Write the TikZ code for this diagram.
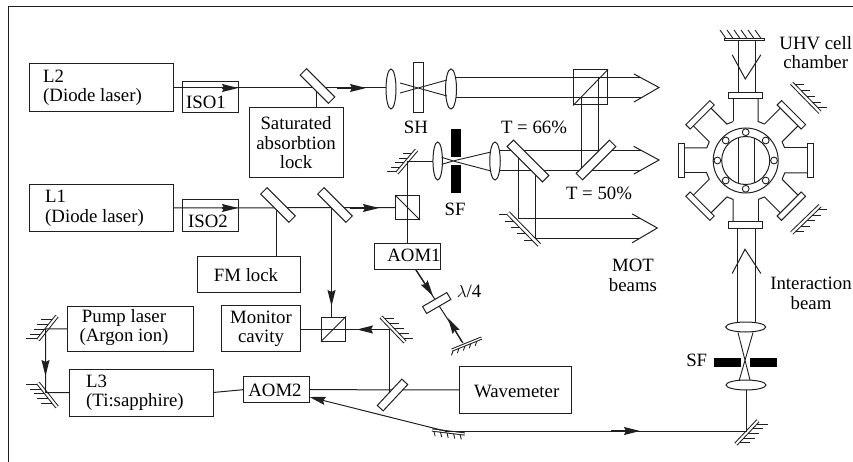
\documentclass[tikz,border=0pt]{standalone}
\usepackage{fontspec}
\setmainfont{Liberation Serif}
\usetikzlibrary{calc,arrows.meta,shapes.geometric}
\definecolor{ln}{gray}{0.12}
\newcommand{\hmirror}[8]{% name x1 y1 x2 y2 dx dy widthpt
  \coordinate (#1a) at (#2,#3); \coordinate (#1b) at (#4,#5);
  \foreach \t in {0.05,0.25,0.45,0.65,0.85}
    \draw[thin line] ($(#1a)!\t!(#1b)$) -- ++(#6,#7);
  \draw[ln,line width=#8pt] (#1a) -- (#1b);
  \draw[white,line width=#8pt-2pt] (#1a) -- (#1b);
  \coordinate (#1) at ($(#1a)!.5!(#1b)$);
}
\newcommand{\bx}[5]{% name x1 y1 x2 y2
  \pgfmathsetmacro\cx{(#2+#4)/2}\pgfmathsetmacro\cy{(#3+#5)/2}
  \pgfmathsetmacro\ww{#4-#2}\pgfmathsetmacro\hh{#5-#3}
  \node[boxst,minimum width=\ww pt,minimum height=\hh pt] (#1) at (\cx,\cy) {};
}
\newcommand{\lens}[5]{\node[lensst,minimum width=#4pt,minimum height=#5pt] (#1) at (#2,#3) {};}
\tikzset{
  thin line/.style={ln,line width=0.9pt},
  beam/.style={ln,line width=1pt},
  boxst/.style={draw=ln,line width=1pt,inner sep=0pt,outer sep=0pt,rectangle},
  lensst/.style={draw=ln,fill=white,line width=1pt,ellipse,inner sep=0pt,outer sep=0pt},
  plate/.style={draw=ln,fill=white,line width=1pt,rectangle,inner sep=0pt,outer sep=0pt},
  flow/.style={ln,line width=1.3pt,-{Stealth[length=16pt,width=8pt,inset=2pt]}},
  open/.style={line width=1pt,ln,line cap=round},
  lbl/.style={inner sep=0pt,align=center,font=\fontsize{18.8}{19.5}\selectfont},
  lbll/.style={inner sep=0pt,align=left,font=\fontsize{18.8}{19.5}\selectfont,anchor=west},
}
\begin{document}
\begin{tikzpicture}[x=1pt,y=-1pt]
\useasboundingbox (0,0) rectangle (853,462);
\draw[ln,line width=1pt] (8.5,462) -- (8.5,7) -- (853,7);
% ---- upper beam L2
\bx{Ltwo}{29}{64}{173}{112}
\bx{isoa}{182}{82}{238}{113}
\bx{sat}{249}{108}{343}{178}
\coordinate (splitA) at (317.5,86);
\coordinate (lensAin) at (386,88);
\draw[beam] (173,88) -- (lensAin);
\draw[flow] (222,88) -- (238,88);
\draw[flow] (337,88) -- (366,88);
\draw[beam] (316,88) -- (sat.north -| 316,0);
\node[plate,minimum width=40pt,minimum height=9pt,rotate=-45] (mA) at (splitA) {};
\lens{lensA}{391}{89}{10}{40}
\node[plate,minimum width=10pt,minimum height=50pt] (sh) at (418,88) {};
\lens{lensB}{451}{89}{11}{40}
\draw[thin line] (400,83) -- (447,96) (400,93) -- (447,80);
% MOT beam 1
\coordinate (cube) at (590.5,87.5);
\draw[beam] (456,78) -- (641,78) (456,97.5) -- (641,97.5);
\draw[open] (634,74) -- (659,87.5) -- (634,102);
\node[draw=ln,line width=1pt,minimum width=34pt,minimum height=35pt,inner sep=0pt] (cb) at (cube) {};
\draw[thin line] (cb.south west) -- (cb.north east);
% Vertical beams from cube to T50
\draw[beam] (581,97.5) -- (581,171) (598.5,78) -- (598.5,151);
% ---- second beam
\bx{Lone}{29}{185}{173}{232}
\bx{isob}{182}{200}{238}{232}
\bx{fm}{197}{256}{300}{292}
\bx{aoma}{374.5}{243.5}{440.5}{269.5}
\node[draw=ln,line width=1pt,minimum width=24pt,minimum height=24pt,inner sep=0pt] (cb2) at (407.5,207.5) {};
\draw[beam] (173,208) -- (cb2.west);
\draw[flow] (222,208) -- (238,208);
\draw[flow] (350,208) -- (379,208);
\draw[thin line] (cb2.north west) -- (cb2.south east);
\coordinate (fmt) at (276,256);
\coordinate (cb3t) at (331.5,317);
\draw[beam] (276,208) -- (fmt);
\draw[beam] (331.5,208) -- (cb3t);
\draw[flow] (331.5,277) -- (331.5,306);
\node[plate,minimum width=40pt,minimum height=9pt,rotate=-45] (mB) at (278,205) {};
\node[plate,minimum width=40pt,minimum height=9pt,rotate=-45] (mC) at (335,205) {};
% mirror above cube
\hmirror{mD}{397}{173}{416.5}{150}{-11}{0}{4}
\draw[beam] (aoma.north -| 407,0) -- (407,161.5) -- (433,161.5);
\lens{lensC}{437.7}{161}{9.5}{38}
\node[fill=black,minimum width=10.5pt,minimum height=64pt,inner sep=0pt] (sfa) at (456.2,161) {};
\fill[white] (451,157) rectangle (461.5,165.5);
\lens{lensD}{495}{161}{10.5}{38}
\draw[thin line] (441.7,157.3) -- (455,161.5) -- (491,171) (441.7,164.3) -- (455,160.5) -- (491,152);
% beams 2
\draw[beam] (500,151) -- (641,151) (500,171) -- (641,171);
\draw[open] (634,146.5) -- (659,160) -- (634,174);
% third beams
\draw[beam] (518.3,151) -- (518.3,218.5) -- (640,218.5);
\draw[beam] (535,171) -- (535,238.3) -- (640,238.3);
\draw[open] (632.3,214) -- (657.3,228) -- (632.3,242.7);
\hmirror{mE}{508}{213}{539.3}{245}{-11}{0}{4.5}
\node[plate,minimum width=50pt,minimum height=9pt,rotate=-45] (t66) at (528,161) {};
\node[plate,minimum width=47pt,minimum height=9pt,rotate=45] (t50) at (596,160) {};
% lambda/4
\hmirror{mF}{452}{350}{481.7}{338}{-2}{6}{3.2}
\coordinate (wp) at (436.7,303);
\draw[beam] (416,270) -- (463,343);
\draw[flow] (416,270) -- (433,296);
\draw[flow] (462,342) -- (448,318);
\node[plate,minimum width=28pt,minimum height=8pt,rotate=30] (wpl) at (wp) {};
% ---- bottom
\bx{pump}{67}{306.7}{193.5}{351}
\bx{mon}{221}{305.5}{300}{351}
\bx{Lthree}{69}{369}{213}{416}
\bx{aomb}{243}{376.7}{309.5}{402.7}
\bx{wav}{459}{366.7}{571}{413}
\node[draw=ln,line width=1pt,minimum width=24pt,minimum height=24pt,inner sep=0pt] (cb3) at (333.5,329) {};
\draw[thin line] (cb3.south west) -- (cb3.north east);
\hmirror{mG}{38}{340}{57}{316}{-13}{0}{4}
\hmirror{mH}{38}{383}{57}{407}{-13}{0}{4}
\hmirror{mI}{381}{317}{405}{342}{12}{0}{4}
\draw[beam] (pump.west) -- (45.5,329) -- (45.5,392.7) -- (Lthree.west);
\draw[flow] (45.5,360) -- (45.5,376);
\draw[beam] (Lthree.east) -- (aomb.west);
\draw[beam] (aomb.east) -- (wav.west);
\draw[beam] (389,393) -- (389,329.5) -- (mon.east |- 0,329.5);
\draw[flow] (384,329.5) -- (357,329.5);
\node[plate,minimum width=36pt,minimum height=8pt,rotate=47] (mJ) at (392.5,395) {};
% long path to the interaction beam
\hmirror{mK}{432}{430}{464.7}{434}{1.5}{6}{3.2}
\hmirror{mL}{736}{444}{758}{420.7}{13}{0}{4}
\draw[beam] (445,431) -- (746,431) -- (746,390);
\draw[flow] (611,431) -- (640,431);
\draw[line width=1pt,ln,-{Stealth[length=16pt,width=8pt,inset=2pt]}] (445,431) -- (aomb.east |- 0,397);
\lens{lensE}{746}{385}{40}{10}
\lens{lensF}{745.7}{327}{40}{10}
\draw[beam] (737.3,223) -- (737.3,322.5) (755.3,223) -- (755.3,322.5);
\node[fill=black,minimum width=62.7pt,minimum height=9.7pt,inner sep=0pt] (sfb) at (745.3,362.5) {};
\fill[white] (741,357.7) rectangle (750,367.3);
\draw[thin line] (738,332.5) -- (750,380) (753,332.5) -- (739.3,380);
\draw[open] (732.3,273.3) -- (745,249.3) -- (760.7,273.3);
% top
\foreach \t in {0,...,5} \draw[thin line] (726+\t*7,38.5) -- (720+\t*7,30);
\node[plate,minimum width=40pt,minimum height=2.6pt] (mT) at (744.3,39.5) {};
\draw[beam] (738.3,40.7) -- (738.3,93) (755.7,40.7) -- (755.7,93);
\draw[open] (732.3,55) -- (745.3,79) -- (760.7,55);
% chamber
\begin{scope}[shift={(745.7,160.5)}]
\foreach \a in {0,45,...,315} {
  \begin{scope}[rotate=\a]
  \draw[beam] (-12.5,-39) -- (-12.5,-62);
  \draw[beam] (12.5,-62) -- (12.5,-39) -- ({-12.5*cos(45)+39*sin(45)},{-12.5*sin(45)-39*cos(45)});
  \draw[beam,fill=white] (-17,-61.5) rectangle (17,-67.7);
  \end{scope}
}
\draw[beam] (0,0) circle[radius=32.5];
\draw[beam] (0,0) circle[radius=24];
\foreach \a in {0,45,...,315} \draw[thin line,fill=white] (\a:28.3) circle[radius=3.4];
\draw[beam] (-7.5,-22.8) -- (-7.5,22.8) (8.5,-22.5) -- (8.5,22.5);
\end{scope}
\hmirror{mM}{791.7}{83.3}{820}{112.3}{11}{0}{4.2}
\hmirror{mN}{791.7}{233}{820}{205.7}{11}{0}{4.2}
% labels
\node[lbll] (tLtwo) at (43,88) {L2\\(Diode laser)};
\node[lbl] (tisoa) at (206,102) {ISO1};
\node[lbl] (tsat) at (296,143) {Saturated\\absorbtion\\lock};
\node[lbl] (tsh) at (416,127) {SH};
\node[lbl] (tsfa) at (455,209) {SF};
\node[lbll] (tLone) at (45,208.5) {L1\\(Diode laser)};
\node[lbl] (tisob) at (208,221) {ISO2};
\node[lbl] (tfm) at (246,275) {FM lock};
\node[lbl] (taoma) at (414,255) {AOM1};
\node[lbl] (ttsix) at (534,127) {T = 66\%};
\node[lbl] (ttfive) at (599,193) {T = 50\%};
\node[lbl] (tuhv) at (815.7,52.5) {UHV cell\\chamber};
\node[lbl] (tmot) at (633,275.5) {MOT\\beams};
\node[lbl] (tint) at (811,293.5) {Interaction\\beam};
\node[lbl] (tsfb) at (696.7,360) {SF};
\node[lbl] (tlam) at (469,291) {$\lambda$/4};
\node[lbl] (tpump) at (124,327.5) {Pump laser\\(Argon ion)};
\node[lbl] (tmon) at (261,329) {Monitor\\cavity};
\node[lbll] (tLthree) at (86,393) {L3\\(Ti:sapphire)};
\node[lbl] (taomb) at (275,390) {AOM2};
\node[lbl] (twav) at (516.7,391) {Wavemeter};
\end{tikzpicture}
\end{document}
